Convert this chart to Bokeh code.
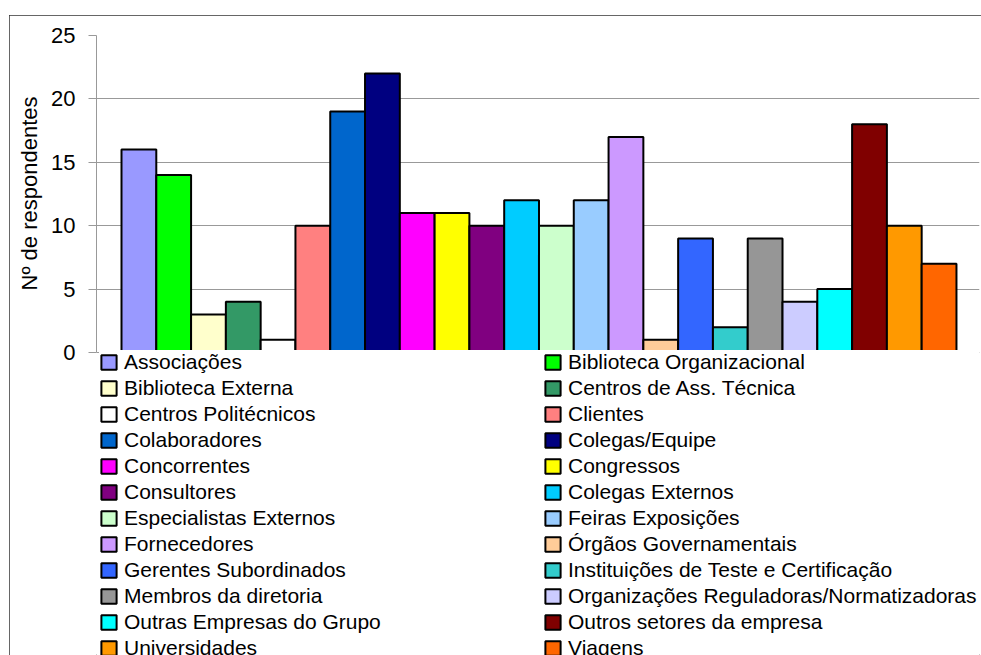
from bokeh.plotting import figure
from bokeh.models import ColumnDataSource, Range1d, FixedTicker, Legend, LegendItem, Title
from bokeh.embed import file_html
from bokeh.resources import INLINE

categories = [
    "Associações", "Biblioteca Organizacional", "Biblioteca Externa", "Centros de Ass. Técnica",
    "Centros Politécnicos", "Clientes", "Colaboradores", "Colegas/Equipe",
    "Concorrentes", "Congressos", "Consultores", "Colegas Externos",
    "Especialistas Externos", "Feiras Exposições", "Fornecedores", "Órgãos Governamentais",
    "Gerentes Subordinados", "Instituições de Teste e Certificação", "Membros da diretoria",
    "Organizações Reguladoras/Normatizadoras", "Outras Empresas do Grupo",
    "Outros setores da empresa", "Universidades", "Viagens",
]
values = [16, 14, 3, 4, 1, 10, 19, 22, 11, 11, 10, 12, 10, 12, 17, 1, 9, 2, 9, 4, 5, 18, 10, 7]
colors = [
    "#9999FF", "#00FF00", "#FFFFCC", "#339966", "#FFFFFF", "#FF8080", "#0066CC", "#000080",
    "#FF00FF", "#FFFF00", "#800080", "#00CCFF", "#CCFFCC", "#99CCFF", "#CC99FF", "#FFCC99",
    "#3366FF", "#33CCCC", "#969696", "#CCCCFF", "#00FFFF", "#800000", "#FF9900", "#FF6600",
]
y_ticks = [0, 5, 10, 15, 20, 25]
y_label = "Nº de respondentes"

FONT = "Liberation Sans"
GRID = "#999999"

source = ColumnDataSource(dict(x=list(range(len(categories))), top=values,
                               color=colors, name=categories))

# canvas placed at (9, 15) of the window; the CSS outline gives the chart border
p = figure(width=972, height=640, output_backend="svg", toolbar_location=None,
           x_range=Range1d(-1.2186, 24.162), y_range=Range1d(-23.896, 25),
           x_axis_location=None, y_axis_location="left",
           min_border_left=87, min_border_right=2, min_border_top=20, min_border_bottom=0,
           margin=(15, 0, 0, 9),
           styles={"outline": "1.5px solid #333333", "outline-offset": "-1px"})
p.outline_line_color = None
p.background_fill_color = "white"
p.border_fill_color = "white"
p.xgrid.grid_line_color = None

r = p.vbar(x="x", top="top", bottom=0, width=1, source=source,
           fill_color="color", line_color="black", line_width=2)

ax = p.yaxis[0]
ax.ticker = FixedTicker(ticks=y_ticks)
ax.bounds = (0, 25)
ax.major_label_text_font = FONT
ax.major_label_text_font_size = "22px"
ax.major_label_text_color = "black"
ax.major_label_standoff = 13
ax.major_tick_out = 8
ax.major_tick_in = 0
ax.minor_tick_out = 0
ax.minor_tick_in = 0
ax.axis_line_color = GRID
ax.major_tick_line_color = GRID
p.ygrid.grid_line_color = GRID
p.ygrid.grid_line_width = 1

# y-axis title, centred on the 0..25 part of the axis
p.add_layout(Title(text=y_label, align="right", vertical_align="middle", offset=61,
                   standoff=12, text_font=FONT, text_font_size="22px",
                   text_font_style="normal", text_color="black"), "left")

def make_legend(idxs, x):
    items = [LegendItem(label=categories[i], renderers=[r], index=i) for i in idxs]
    return Legend(items=items, location=(x, -5), orientation="vertical",
                  padding=5, margin=0, spacing=2, label_standoff=6,
                  glyph_width=19, glyph_height=18, label_height=14,
                  label_width=420,
                  label_text_font=FONT, label_text_font_size="21px",
                  label_text_color="black",
                  border_line_color=None, background_fill_color="white",
                  background_fill_alpha=1.0)

p.add_layout(make_legend(range(0, 24, 2), 3))
p.add_layout(make_legend(range(1, 24, 2), 447))

open("out.html", "w").write(file_html(p, INLINE))
